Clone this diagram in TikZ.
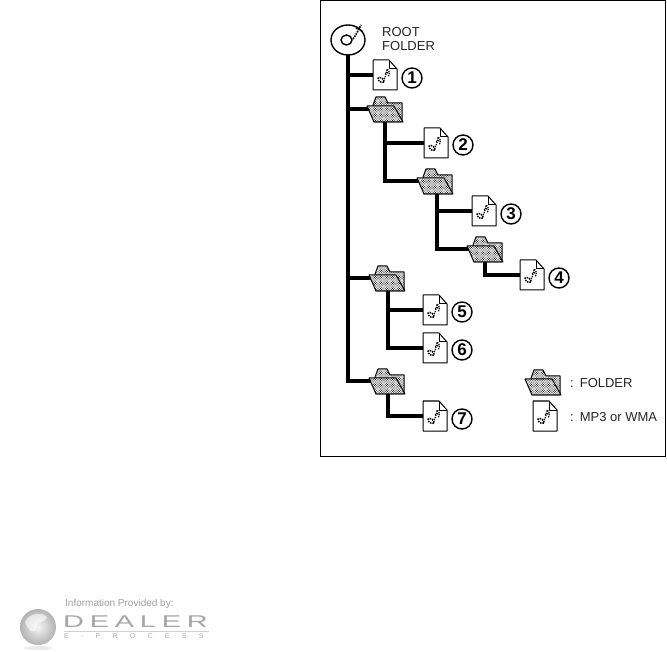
\documentclass[tikz,border=0pt]{standalone}
\usepackage{fontspec}
\setmainfont{Liberation Sans}
\newfontfamily\dealerfont[LetterSpace=20]{Liberation Sans}
\newfontfamily\eprocfont[LetterSpace=175]{Liberation Sans}
\usetikzlibrary{patterns,shapes.geometric}
\pgfdeclarepatternformonly{folderdots}{\pgfqpoint{-1pt}{-1pt}}{\pgfqpoint{3pt}{3pt}}{\pgfqpoint{2.4pt}{2.4pt}}{%
  \pgfpathcircle{\pgfqpoint{0pt}{0pt}}{.55pt}%
  \pgfpathcircle{\pgfqpoint{1.2pt}{1.2pt}}{.55pt}%
  \pgfusepath{fill}}
\tikzset{
  docspot/.style={minimum width=24pt,minimum height=30pt,inner sep=0pt,outer sep=0pt},
  folderspot/.style={minimum width=36pt,minimum height=26pt,inner sep=0pt,outer sep=0pt},
  conn/.style={line width=3.8pt,line cap=rect,black},
  numcirc/.style={circle,draw,line width=1.4pt,minimum size=20pt,inner sep=0pt,font=\fontsize{17}{17}\selectfont\bfseries},
  lab/.style={inner sep=0pt,anchor=base west,font=\fontsize{13}{13}\selectfont,text=black!85},
  noteline/.style={line width=1.2pt,densely dotted},
  iconline/.style={line width=1pt,line join=round},
  fdots/.style={pattern=folderdots,pattern color=black}
}
\newcommand{\docshape}[1]{%
  \begin{scope}[shift={(#1.north west)}]
    \draw[iconline,fill=white] (0,0)--(16,0)--(24,9)--(24,30)--(0,30)--cycle;
    \draw[iconline] (16,0)--(16,9)--(24,9);
    \draw[line width=1.5pt,densely dotted,rotate around={-35:(8,20)}] (8,20) ellipse (3.4 and 2);
    \draw[noteline] (11,19) .. controls (13,17) and (13,13) .. (14,9) .. controls (17,11) and (17,14) .. (15,17) (12,14) -- (16,12);
  \end{scope}}
\newcommand{\foldershape}[1]{%
  \begin{scope}[shift={(#1.north west)}]
    \fill[white] (6,9)--(9,1)--(18,1)--(21,7)--(35,7)--(35,26)--(7,26)--cycle;
    \draw[iconline,fdots] (6,9)--(9,1)--(18,1)--(21,7)--(35,7)--(35,26)--(7,26)--cycle;
    \fill[white] (0,10)--(27,10)--(36,26)--(7,26)--cycle;
    \draw[iconline,fdots] (0,10)--(27,10)--(36,26)--(7,26)--cycle;
  \end{scope}}
\begin{document}
\begin{tikzpicture}[x=1pt,y=-1pt]
\useasboundingbox (0,0) rectangle (667,652);
\fill[white] (0,0) rectangle (667,652);
\node[draw,line width=1pt,minimum width=345pt,minimum height=455pt,inner sep=0pt] (frame) at (493,228.5) {};
% logo
\shade[inner color=black!4,outer color=black!30] (38,627) circle (18);
\fill[white,opacity=.6] (25,622) .. controls (30,612) and (42,612) .. (47,617) .. controls (44,624) and (38,620) .. (36,628) .. controls (34,636) and (28,630) .. (25,622) -- cycle;
\fill[black!8] (38,648) ellipse (14 and 2);
\node[inner sep=0pt,anchor=base west,text=black!38,font=\fontsize{10}{10}\selectfont] (info) at (65,606) {Information Provided by:};
\node[inner sep=0pt,anchor=base west,text=black!35] (dealer) at (63,627) {\scalebox{1.7}[1]{\fontsize{17}{17}\dealerfont DEALER}};
\draw[black!18,line width=.6pt] (64,631)--(209,631);
\node[inner sep=0pt,anchor=base west,text=black!32] (eproc) at (64,638.5) {\fontsize{7}{7}\eprocfont E-PROCESS};
% disc and labels
\node[ellipse,minimum width=34pt,minimum height=30pt,inner sep=0pt,outer sep=0pt] (disc) at (348,40) {};
\node[lab] (root) at (382,37) {ROOT};
\node[lab] (rootb) at (382,51) {FOLDER};
% spots
\node[docspot] (d1) at (385,75) {};
\node[docspot] (d2) at (436,143) {};
\node[docspot] (d3) at (484,211) {};
\node[docspot] (d4) at (532,275) {};
\node[docspot] (d5) at (435,310) {};
\node[docspot] (d6) at (435,348) {};
\node[docspot] (d7) at (435,416) {};
\node[docspot] (dl) at (545,416) {};
\node[folderspot] (f1) at (385,109) {};
\node[folderspot] (f2) at (435,181) {};
\node[folderspot] (f3) at (485,249) {};
\node[folderspot] (f4) at (387,278) {};
\node[folderspot] (f5) at (387,381) {};
\node[folderspot] (fl) at (543,382) {};
% connectors
\draw[conn] (disc.south) -- (disc.south |- f5.west) -- (f5.west);
\draw[conn] (disc.south |- d1.west) -- (d1.west);
\draw[conn] (disc.south |- f1.west) -- (f1.west);
\draw[conn] (disc.south |- f4.west) -- (f4.west);
\draw[conn] (f1.south) -- (f1.south |- f2.west) -- (f2.west);
\draw[conn] (f1.south |- d2.west) -- (d2.west);
\draw[conn] ([xshift=2pt]f2.south) -- ([xshift=2pt]f2.south |- f3.west) -- (f3.west);
\draw[conn] ([xshift=2pt]f2.south |- d3.west) -- (d3.west);
\draw[conn] (f3.south) -- (f3.south |- d4.west) -- (d4.west);
\draw[conn] ([xshift=1pt]f4.south) -- ([xshift=1pt]f4.south |- d6.west) -- (d6.west);
\draw[conn] ([xshift=1pt]f4.south |- d5.west) -- (d5.west);
\draw[conn] ([xshift=1pt]f5.south) -- ([xshift=1pt]f5.south |- d7.west) -- (d7.west);
% icons
\draw[line width=1.4pt,fill=white] (disc.center) ellipse (17 and 15);
\draw[line width=1.4pt] (346.5,40) ellipse (5.5 and 5);
\draw[line width=1.6pt,densely dotted] (353,39) .. controls (356,35) and (358,31) .. (361,25) (356,28)--(362,31);
\foreach \n in {d1,d2,d3,d4,d5,d6,d7,dl} {\docshape{\n}}
\foreach \n in {f1,f2,f3,f4,f5,fl} {\foldershape{\n}}
% numbers
\node[numcirc] (n1) at (412,78) {1};
\node[numcirc] (n2) at (463,145) {2};
\node[numcirc] (n3) at (511,214) {3};
\node[numcirc] (n4) at (559,278) {4};
\node[numcirc] (n5) at (462,312) {5};
\node[numcirc] (n6) at (462,350) {6};
\node[numcirc] (n7) at (462,419) {7};
% legend
\node[lab] (lf) at (570,388) {:\hspace{6pt}FOLDER};
\node[lab] (lm) at (570,421) {:\hspace{6pt}MP3 or WMA};
\end{tikzpicture}
\end{document}
